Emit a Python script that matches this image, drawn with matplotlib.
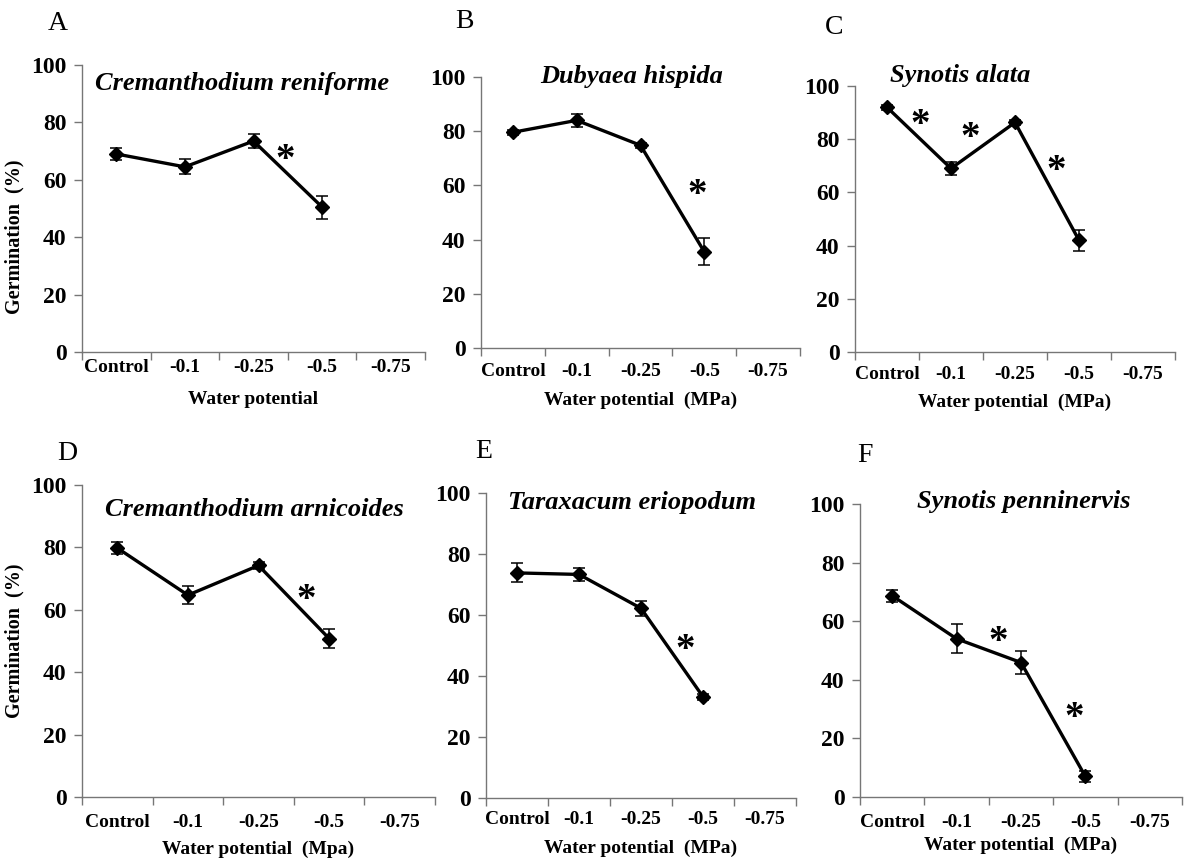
import matplotlib
matplotlib.use("Agg")
import matplotlib.pyplot as plt

plt.rcParams['font.family'] = ['Liberation Serif', 'DejaVu Serif']

W, H = 1187, 861

categories = ["Control", "-0.1", "-0.25", "-0.5", "-0.75"]
species = ["Cremanthodium reniforme", "Dubyaea hispida", "Synotis alata",
           "Cremanthodium arnicoides", "Taraxacum eriopodum", "Synotis penninervis"]
panel_letters = ["A", "B", "C", "D", "E", "F"]
xlabels = ["Water potential", "Water potential  (MPa)", "Water potential  (MPa)",
           "Water potential  (Mpa)", "Water potential  (MPa)", "Water potential  (MPa)"]

# mean germination (%) and error for Control, -0.1, -0.25, -0.5 MPa
germ_a = [69, 64.5, 73.5, 50.5]
err_a = [2.2, 2.6, 2.3, 4.0]
germ_b = [79.6, 84, 74.8, 35.5]
err_b = [1.0, 2.5, 1.0, 5.0]
germ_c = [92, 69, 86.3, 42]
err_c = [1.0, 2.5, 1.0, 4.0]
germ_d = [79.8, 64.7, 74.2, 50.8]
err_d = [1.8, 3.0, 1.0, 3.0]
germ_e = [73.8, 73.3, 62.2, 33.2]
err_e = [3.1, 2.2, 2.4, 1.0]
germ_f = [68.7, 54, 45.9, 7.0]
err_f = [2.0, 5.0, 4.0, 2.0]

germ = [germ_a, germ_b, germ_c, germ_d, germ_e, germ_f]
errs = [err_a, err_b, err_c, err_d, err_e, err_f]

# significance marks (x in category units, y in %)
stars = [
    [(2.46, 69.8)],
    [(2.88, 59.6)],
    [(0.52, 88.5), (1.30, 83.4), (2.65, 70.9)],
    [(2.67, 65.8)],
    [(2.71, 51.3)],
    [(1.65, 55.8), (2.82, 29.6)],
]

# axes boxes in pixels: left, top, right, bottom
boxes = [(82, 65, 425, 352), (481, 77, 800, 348), (855, 86, 1175, 352),
         (82, 485, 435, 797), (486, 493, 796, 798), (860, 504, 1182, 797)]
title_pos = [(0.466, 0.937), (0.473, 1.0), (0.33, 1.04),
             (0.487, 0.92), (0.47, 0.97), (0.51, 1.007)]
ylabel_pos = {0: (-0.169, 0.40), 3: (-0.164, 0.5)}
letter_pos = [(58, 23), (464, 22), (834, 28), (67, 453), (484, 452), (865, 455)]
tick_pad = [5, 11, 10, 12, 9, 12]
label_pad = [10.5, 8.5, 8, 7.5, 8.5, 4.5]

fig = plt.figure(figsize=(W / 100, H / 100), dpi=100)
spine_col = '#767676'

for i in range(6):
    l, t, r, b = boxes[i]
    ax = fig.add_axes([l / W, 1 - b / H, (r - l) / W, (b - t) / H])
    x = list(range(len(germ[i])))
    ax.errorbar(x, germ[i], yerr=errs[i], color='black', lw=2.4, marker='D',
                ms=7, ecolor='black', elinewidth=1.1, capsize=4, capthick=1.1)
    ax.set_xlim(-0.5, 4.5)
    ax.set_ylim(0, 100)
    ax.set_yticks([0, 20, 40, 60, 80, 100])
    ax.set_xticks(range(len(categories)))
    ax.set_xticklabels(categories)
    ax.set_xticks([k - 0.5 for k in range(len(categories) + 1)], minor=True)
    ax.tick_params(axis='x', which='major', length=0, pad=tick_pad[i],
                   labelsize=14)
    ax.tick_params(axis='x', which='minor', length=6, width=1, color=spine_col,
                   direction='out')
    ax.tick_params(axis='y', length=6, width=1, color=spine_col, pad=5,
                   labelsize=17)
    for lab in ax.get_xticklabels() + ax.get_yticklabels():
        lab.set_fontweight('bold')
    for s in ['top', 'right']:
        ax.spines[s].set_visible(False)
    for s in ['left', 'bottom']:
        ax.spines[s].set_color(spine_col)
        ax.spines[s].set_linewidth(1)
    ax.set_xlabel(xlabels[i], fontsize=14, fontweight='bold',
                  labelpad=label_pad[i])
    if i in ylabel_pos:
        ax.set_ylabel("Germination  (%)", fontsize=14.5, fontweight='bold')
        ax.yaxis.set_label_coords(*ylabel_pos[i])
    tx, ty = title_pos[i]
    ax.text(tx, ty, species[i], transform=ax.transAxes, ha='center',
            va='center', fontsize=19, fontweight='bold', style='italic')
    for sx, sy in stars[i]:
        ax.annotate('*', (sx, sy), xytext=(0, -13), textcoords='offset points',
                    ha='center', va='baseline', fontsize=28, fontweight='bold')
    lx, ly = letter_pos[i]
    fig.text(lx / W, 1 - ly / H, panel_letters[i], ha='center', va='center',
             fontsize=20)

fig.savefig('out.png', dpi=100)
